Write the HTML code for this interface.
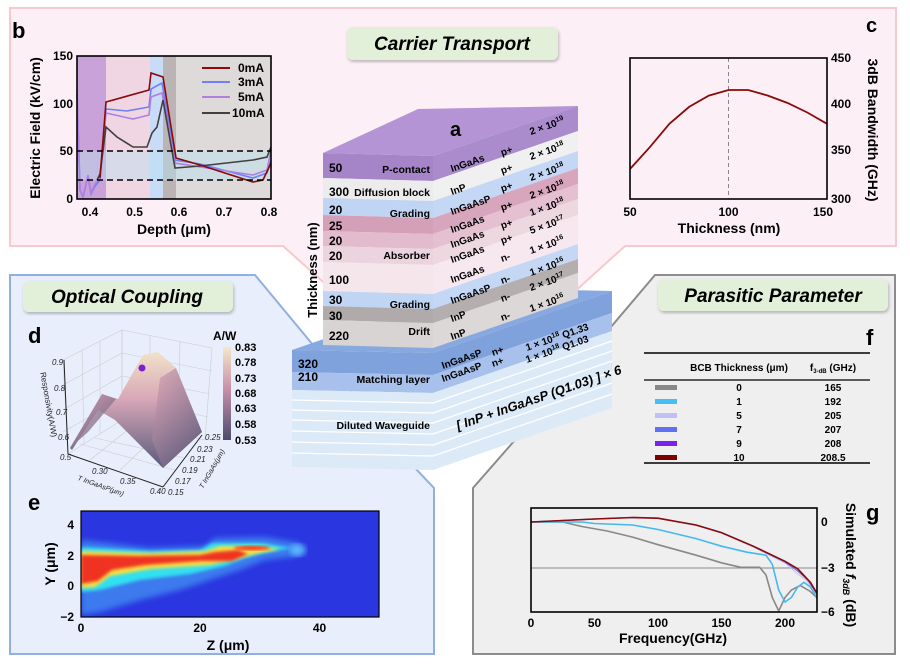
<!DOCTYPE html>
<html><head><meta charset="utf-8"><style>
html,body{margin:0;padding:0;background:#fff}
svg{display:block;font-family:"Liberation Sans",Arial,sans-serif}
.b{font-weight:bold}
</style></head><body>
<svg width="910" height="668" viewBox="0 0 910 668" xmlns="http://www.w3.org/2000/svg">
<defs>
<filter id="bl3"><feGaussianBlur stdDeviation="3"/></filter>
<filter id="bl2"><feGaussianBlur stdDeviation="1.5"/></filter>
<filter id="sh"><feDropShadow dx="1" dy="2" stdDeviation="1.5" flood-color="#000" flood-opacity="0.25"/></filter>
<clipPath id="ce"><rect x="81" y="511" width="298" height="106"/></clipPath>
<linearGradient id="cb" x1="0" y1="0" x2="0" y2="1"><stop offset="0" stop-color="#f4e8c8"/><stop offset="0.45" stop-color="#c890aa"/><stop offset="1" stop-color="#4a4c6c"/></linearGradient>
<linearGradient id="sf" x1="0" y1="0" x2="0" y2="1"><stop offset="0" stop-color="#f2e2c8"/><stop offset="0.4" stop-color="#d8a8b8"/><stop offset="1" stop-color="#585a7a"/></linearGradient>
<linearGradient id="sf2" x1="0" y1="0" x2="1" y2="1"><stop offset="0" stop-color="#d8a0b4"/><stop offset="1" stop-color="#505274"/></linearGradient>
</defs>

<polygon points="10,8 896,8 896,246 625,246 455,400 283,246 10,246" fill="#fcf0f6" stroke="#f8c8cc" stroke-width="2"/>
<polygon points="10,275 255,275 415,468 434,488 434,654 10,654" fill="#e8eefc" stroke="#90b0e0" stroke-width="2"/>
<polygon points="473,654 895,654 895,275 655,275 515,440 473,488" fill="#efefef" stroke="#8c8c8c" stroke-width="2"/>

<rect x="347" y="27" width="211" height="33" rx="6" fill="#e2efd9" filter="url(#sh)"/>
<text x="452" y="50" text-anchor="middle" font-size="19" font-weight="bold" font-style="italic">Carrier Transport</text>
<rect x="23" y="281" width="210" height="31" rx="6" fill="#e2efd9" filter="url(#sh)"/>
<text x="127" y="303" text-anchor="middle" font-size="19" font-weight="bold" font-style="italic">Optical  Coupling</text>
<rect x="658" y="279" width="230" height="32" rx="6" fill="#e2efd9" filter="url(#sh)"/>
<text x="773" y="302" text-anchor="middle" font-size="19" font-weight="bold" font-style="italic">Parasitic Parameter</text>

<!-- panel b -->
<text x="12" y="38" font-size="22" class="b">b</text>
<rect x="77" y="56" width="29" height="143" fill="#c8a2d8"/>
<rect x="106" y="56" width="44" height="143" fill="#f0d6e2"/>
<rect x="150" y="56" width="13" height="143" fill="#c8dcf8"/>
<rect x="163" y="56" width="13" height="143" fill="#bcb4b4"/>
<rect x="176" y="56" width="95" height="143" fill="#dedada"/>
<rect x="77" y="151" width="194" height="29" fill="#b8e0f0" opacity="0.45"/>
<g fill="none" stroke-width="1.6">
<path d="M77,95 L80,190 L83,197 L88,176 L91,194 L95,186 L100,180 L106,109 L127,111 L149,107 L151,89 L162,83 L175,160 L200,164 L253,178 L267,173 L271,160" stroke="#6f7ff8"/>
<path d="M77,90 L80,190 L83,197 L88,175 L91,193 L95,184 L100,178 L106,113 L133,119 L149,115 L151,97 L162,93 L175,163 L253,175 L267,170 L271,150" stroke="#b080e0"/>
<path d="M97,180 L100,174 L106,127 L117,137 L133,147 L147,147 L152,133 L157,127 L163,100 L175,168 L200,166 L253,160 L267,157 L271,147" stroke="#404040"/>
<path d="M100,178 L106,102 L149,90 L151,73 L163,77 L176,158 L200,165 L253,182 L263,180 L271,163" stroke="#8b0a0a"/>
</g>
<line x1="77" y1="151" x2="271" y2="151" stroke="#000" stroke-width="1.5" stroke-dasharray="6,4"/>
<line x1="77" y1="180" x2="271" y2="180" stroke="#000" stroke-width="1.5" stroke-dasharray="6,4"/>
<rect x="77" y="56" width="194" height="143" fill="none" stroke="#000" stroke-width="1.6"/>
<g stroke-width="2"><line x1="202" y1="68" x2="230" y2="68" stroke="#8b0a0a"/><line x1="202" y1="82" x2="230" y2="82" stroke="#6f7ff8"/><line x1="202" y1="97" x2="230" y2="97" stroke="#b080e0"/><line x1="202" y1="113" x2="230" y2="113" stroke="#404040"/></g>
<g font-size="12" class="b"><text x="238" y="72">0mA</text><text x="238" y="86">3mA</text><text x="238" y="101">5mA</text><text x="232" y="117">10mA</text></g>
<g font-size="12" class="b" text-anchor="end"><text x="73" y="60">150</text><text x="73" y="108">100</text><text x="73" y="155">50</text><text x="73" y="203">0</text></g>
<g font-size="12" class="b" text-anchor="middle"><text x="90" y="216">0.4</text><text x="134.6" y="216">0.5</text><text x="179" y="216">0.6</text><text x="224" y="216">0.7</text><text x="269" y="216">0.8</text>
<text x="174" y="234" font-size="14">Depth (μm)</text></g>
<text transform="translate(40,128) rotate(-90)" text-anchor="middle" font-size="14" class="b">Electric Field (kV/cm)</text>

<!-- panel c -->
<text x="866" y="32" font-size="20" class="b">c</text>
<line x1="728.5" y1="58" x2="728.5" y2="199" stroke="#888" stroke-dasharray="4,3"/>
<path d="M630,169 L649.7,147.3 L669.4,123.8 L689.1,106.9 L708.8,95.6 L728.5,90 L748.2,90 L767.9,95.6 L787.6,103 L807.3,112.5 L827,123.8" fill="none" stroke="#8b0a0a" stroke-width="1.8"/>
<rect x="630" y="58" width="197" height="141" fill="none" stroke="#000" stroke-width="1.6"/>
<g font-size="12" class="b"><text x="831" y="62">450</text><text x="831" y="108">400</text><text x="831" y="154">350</text><text x="831" y="203">300</text></g>
<g font-size="12" class="b" text-anchor="middle"><text x="630" y="216">50</text><text x="728.5" y="216">100</text><text x="823" y="216">150</text><text x="729" y="233" font-size="14">Thickness (nm)</text></g>
<text transform="translate(868,130) rotate(90)" text-anchor="middle" font-size="14" class="b">3dB Bandwidth (GHz)</text>

<!-- panel d -->
<text x="28" y="343" font-size="22" class="b">d</text>
<g stroke="#ccc" stroke-width="0.6" fill="none">
<polygon points="63,360 122,330 122,420 68,454"/><polygon points="122,330 212,348 205,440 122,420"/>
<line x1="82" y1="350" x2="84" y2="444"/><line x1="100" y1="341" x2="100" y2="434"/><line x1="150" y1="335" x2="150" y2="426"/><line x1="180" y1="341" x2="178" y2="432"/>
<line x1="63" y1="385" x2="122" y2="353"/><line x1="63" y1="410" x2="122" y2="376"/><line x1="63" y1="432" x2="122" y2="398"/>
<line x1="122" y1="353" x2="212" y2="371"/><line x1="122" y1="376" x2="210" y2="394"/><line x1="122" y1="398" x2="208" y2="417"/>
<line x1="90" y1="460" x2="145" y2="416"/><line x1="120" y1="470" x2="170" y2="423"/><line x1="80" y1="444" x2="175" y2="470"/><line x1="95" y1="438" x2="185" y2="458"/>
</g>
<polygon points="70,448 102,394 118,399 143,355 158,352 176,368 202,432 163,468 150,455 115,420 98,410 72,450" fill="url(#sf)"/>
<polygon points="70,448 102,394 116,399 88,432" fill="url(#sf2)" opacity="0.8"/>
<polygon points="160,378 176,368 202,432 163,468 152,440" fill="url(#sf2)" opacity="0.7"/>
<circle cx="142" cy="368" r="3.5" fill="#7a20d0"/>
<line x1="64" y1="360" x2="68" y2="454" stroke="#222" stroke-width="1"/>
<line x1="68" y1="454" x2="163" y2="487" stroke="#222" stroke-width="1"/>
<line x1="163" y1="487" x2="202" y2="435" stroke="#222" stroke-width="1"/>
<g font-size="8" font-style="italic" fill="#222"><text x="52" y="365">0.9</text><text x="54" y="391">0.8</text><text x="56" y="415">0.7</text><text x="58" y="440">0.6</text><text x="60" y="460">0.5</text>
<text x="92" y="474">0.30</text><text x="120" y="484">0.35</text><text x="150" y="494">0.40</text>
<text x="205" y="440">0.25</text><text x="197" y="452">0.23</text><text x="190" y="462">0.21</text><text x="182" y="473">0.19</text><text x="175" y="484">0.17</text><text x="168" y="495">0.15</text></g>
<text transform="translate(46,405) rotate(80)" text-anchor="middle" font-size="8" fill="#222">Responsivity(A/W)</text>
<text transform="translate(100,488) rotate(20)" text-anchor="middle" font-size="7" font-style="italic" fill="#222">T InGaAsP(μm)</text>
<text transform="translate(214,470) rotate(-60)" text-anchor="middle" font-size="7" font-style="italic" fill="#222">T InGaAs(μm)</text>
<rect x="223" y="347" width="8" height="93" fill="url(#cb)"/>
<text x="213" y="340" font-size="12" class="b">A/W</text>
<g font-size="11" class="b"><text x="235" y="351">0.83</text><text x="235" y="366">0.78</text><text x="235" y="382">0.73</text><text x="235" y="397">0.68</text><text x="235" y="412">0.63</text><text x="235" y="428">0.58</text><text x="235" y="444">0.53</text></g>

<!-- panel e -->
<text x="28" y="510" font-size="22" class="b">e</text>
<rect x="81" y="511" width="298" height="106" fill="#2a36e0"/>
<g clip-path="url(#ce)">
<path d="M81,540 L150,548 L205,546 L215,538 L265,537 L300,543 L300,556 L265,560 L240,570 L210,580 L180,590 L140,600 L100,612 L81,615 Z" fill="#4aa8f8" filter="url(#bl3)" opacity="0.6"/>
<ellipse cx="298" cy="550" rx="8" ry="6" fill="#60c8ff" filter="url(#bl3)" opacity="0.8"/>
<path d="M81,547 L150,551 L200,550 L212,543 L262,543 L292,548 L262,553 L245,558 L225,566 L190,574 L140,580 L100,590 L81,592 Z" fill="#30e0f0" filter="url(#bl2)"/>
<path d="M81,551 L150,553 L205,551 L220,546 L258,546 L280,549 L255,554 L236,559 L210,565 L150,569 L110,576 L95,587 L81,588 Z" fill="#f8e040" filter="url(#bl2)"/>
<path d="M81,555 L140,556 L200,555 L215,552 L238,550 L248,554 L232,561 L200,561 L145,565 L112,570 L98,581 L81,584 Z" fill="#f03020" filter="url(#bl2)"/>
<ellipse cx="252" cy="548" rx="18" ry="2.2" fill="#f03020" filter="url(#bl2)"/>
</g>
<rect x="81" y="511" width="298" height="106" fill="none" stroke="#000" stroke-width="1.2"/>
<g font-size="12" class="b" text-anchor="end"><text x="74" y="529">4</text><text x="74" y="560">2</text><text x="74" y="590">0</text><text x="74" y="621">−2</text></g>
<g font-size="12" class="b" text-anchor="middle"><text x="81" y="632">0</text><text x="200" y="632">20</text><text x="319.5" y="632">40</text><text x="228" y="650" font-size="14">Z (μm)</text></g>
<text transform="translate(55,564) rotate(-90)" text-anchor="middle" font-size="14" class="b">Y (μm)</text>

<!-- panel f -->
<text x="866" y="345" font-size="22" class="b">f</text>
<line x1="644" y1="353" x2="870" y2="353" stroke="#000" stroke-width="1.5"/>
<line x1="644" y1="380" x2="870" y2="380" stroke="#000" stroke-width="1.2"/>
<line x1="644" y1="463" x2="870" y2="463" stroke="#000" stroke-width="1.5"/>
<text x="739" y="371" text-anchor="middle" font-size="10" class="b">BCB Thickness (μm)</text>
<text x="833" y="371" text-anchor="middle" font-size="10" class="b">f<tspan font-size="6" dy="2">3-dB</tspan><tspan dy="-2"> (GHz)</tspan></text>
<g>
<rect x="655" y="385" width="22" height="5" fill="#888"/><rect x="655" y="399" width="22" height="5" fill="#44c0f4"/><rect x="655" y="413" width="22" height="5" fill="#c0c0f4"/><rect x="655" y="427" width="22" height="5" fill="#6070f0"/><rect x="655" y="441" width="22" height="5" fill="#7a20f0"/><rect x="655" y="455" width="22" height="5" fill="#800000"/>
</g>
<g font-size="10" class="b" text-anchor="middle">
<text x="739" y="391">0</text><text x="833" y="391">165</text>
<text x="739" y="405">1</text><text x="833" y="405">192</text>
<text x="739" y="419">5</text><text x="833" y="419">205</text>
<text x="739" y="433">7</text><text x="833" y="433">207</text>
<text x="739" y="447">9</text><text x="833" y="447">208</text>
<text x="739" y="461">10</text><text x="833" y="461">208.5</text></g>

<!-- panel g -->
<text x="866" y="520" font-size="22" class="b">g</text>
<line x1="531" y1="568" x2="817" y2="568" stroke="#888" stroke-width="1"/>
<g fill="none" stroke-width="1.6">
<path d="M531,522 L562.8,522 L581.8,526.5 L607.2,531 L632.6,537.1 L658,544.7 L696.1,555.2 L721.5,562.8 L740.6,567.3 L759.6,567.3 L766,575 L772.3,597.5 L778.7,611 L785,597.5 L791.4,590 L800.2,585.4 L810.4,591.5 L816.8,597.5" stroke="#888"/>
<path d="M531,522 L581.8,522 L594.5,523.5 L632.6,525 L658,529.5 L696.1,538.6 L721.5,546.2 L746.9,552.2 L766,555.2 L772.3,564.3 L778.7,590 L785,602 L791.4,597.5 L797.7,587 L804,582.4 L810.4,587 L816.8,597.5" stroke="#44b8f0"/>
<path d="M531,522 L594.5,519 L632.6,517.5 L658,518.5 L696.1,525.5 L721.5,533 L753.3,547 L785,563 L797.7,574 L806,580 L816.8,593" stroke="#c0c0f4" stroke-width="1"/>
<path d="M531,522 L594.5,519 L632.6,517.5 L658,518.3 L696.1,525.2 L721.5,532.8 L753.3,546.5 L785,562 L797.7,571 L808,580 L816.8,594" stroke="#6070f0" stroke-width="1.2"/>
<path d="M531,522 L594.5,519 L632.6,517.5 L658,518.2 L696.1,525 L721.5,532.6 L753.3,546.2 L785,561.3 L797.7,568.8 L810.4,582.4 L816.8,593" stroke="#8b0a0a"/>
</g>
<rect x="531" y="508" width="286" height="104" fill="none" stroke="#000" stroke-width="1.6"/>
<g font-size="12" class="b"><text x="821" y="526">0</text><text x="821" y="572">−3</text><text x="821" y="616">−6</text></g>
<g font-size="12" class="b" text-anchor="middle"><text x="531" y="627">0</text><text x="594.5" y="627">50</text><text x="658" y="627">100</text><text x="721.5" y="627">150</text><text x="785" y="627">200</text><text x="673" y="643" font-size="14">Frequency(GHz)</text></g>
<text transform="translate(846,565) rotate(90)" text-anchor="middle" font-size="14" class="b">Simulated <tspan font-style="italic">f</tspan><tspan font-size="9" dy="3" font-style="italic">3dB</tspan><tspan dy="-3"> (dB)</tspan></text>

<!-- stack: lower block -->
<polygon points="292,350 433,353 612,291 471,288" fill="#88a8e0"/>
<polygon points="292,350 433,353 433,375 292,372" fill="#7fa2dc"/>
<polygon points="292,372 433,375 433,393 292,390" fill="#a8c0ec"/>
<polygon points="292,390 433,393 433,470 292,467" fill="#dceaf8"/>
<polygon points="433,353 612,291 612,313 433,375" fill="#7fa2dc"/>
<polygon points="433,375 612,313 612,331 433,393" fill="#a8c0ec"/>
<polygon points="433,393 612,331 612,408 433,470" fill="#dceaf8"/>
<g stroke="#fff" stroke-width="1.2" fill="none">
<path d="M292,400 L433,403 L612,341"/><path d="M292,410 L433,413 L612,351"/><path d="M292,420 L433,423 L612,361"/><path d="M292,431 L433,434 L612,372"/><path d="M292,442 L433,445 L612,383"/><path d="M292,453 L433,456 L612,394"/>
</g>
<!-- upper block -->
<polygon points="323,153 418,109 578,106 433,156" fill="#b494d4"/>
<g>
<polygon points="323,153 433,156 433,181 323,178" fill="#a684c8"/><polygon points="433,156 578,106 578,131 433,181" fill="#aa8ccc"/>
<polygon points="323,178 433,181 433,201 323,198" fill="#ececec"/><polygon points="433,181 578,131 578,151 433,201" fill="#f0f0f0"/>
<polygon points="323,198 433,201 433,218 323,215" fill="#c0d4f4"/><polygon points="433,201 578,151 578,168 433,218" fill="#c4d8f6"/>
<polygon points="323,215 433,218 433,234 323,231" fill="#d4a0b8"/><polygon points="433,218 578,168 578,184 433,234" fill="#d8a6bc"/>
<polygon points="323,231 433,234 433,249 323,246" fill="#e2bccc"/><polygon points="433,234 578,184 578,199 433,249" fill="#e4c0d0"/>
<polygon points="323,246 433,249 433,265 323,262" fill="#ecd4de"/><polygon points="433,249 578,199 578,215 433,265" fill="#eed8e0"/>
<polygon points="323,262 433,265 433,294 323,291" fill="#f5e6ec"/><polygon points="433,265 578,215 578,244 433,294" fill="#f6e8ee"/>
<polygon points="323,291 433,294 433,309 323,306" fill="#c0d4f4"/><polygon points="433,294 578,244 578,259 433,309" fill="#c4d8f6"/>
<polygon points="323,306 433,309 433,323 323,320" fill="#b0aaaa"/><polygon points="433,309 578,259 578,273 433,323" fill="#b4aeae"/>
<polygon points="323,320 433,323 433,348 323,345" fill="#d8d4d4"/><polygon points="433,323 578,273 578,298 433,348" fill="#dcd8d8"/>
</g>
<text x="450" y="136" font-size="20" class="b">a</text>
<text transform="translate(317,270) rotate(-90)" text-anchor="middle" font-size="13" class="b">Thickness (nm)</text>
<g font-size="12" class="b"><text x="329" y="172">50</text><text x="329" y="196">300</text><text x="329" y="214">20</text><text x="329" y="230">25</text><text x="329" y="245">20</text><text x="329" y="260">20</text><text x="329" y="284">100</text><text x="329" y="304">30</text><text x="329" y="320">30</text><text x="329" y="340">220</text>
<text x="298" y="368">320</text><text x="298" y="381">210</text></g>
<g font-size="10.5" class="b" text-anchor="end"><text x="430" y="173">P-contact</text><text x="430" y="196">Diffusion block</text><text x="430" y="217">Grading</text><text x="430" y="259">Absorber</text><text x="430" y="308">Grading</text><text x="430" y="335">Drift</text><text x="430" y="383">Matching layer</text><text x="430" y="429">Diluted Waveguide</text></g>
<g font-size="10" class="b">
<text transform="translate(452,172) rotate(-19)">InGaAs</text>
<text transform="translate(452,195) rotate(-19)">InP</text>
<text transform="translate(452,215) rotate(-19)">InGaAsP</text>
<text transform="translate(452,233) rotate(-19)">InGaAs</text>
<text transform="translate(452,248) rotate(-19)">InGaAs</text>
<text transform="translate(452,263) rotate(-19)">InGaAs</text>
<text transform="translate(452,283) rotate(-19)">InGaAs</text>
<text transform="translate(452,304) rotate(-19)">InGaAsP</text>
<text transform="translate(452,322) rotate(-19)">InP</text>
<text transform="translate(452,340) rotate(-19)">InP</text>
<text transform="translate(502,156) rotate(-19)">p+</text>
<text transform="translate(502,174) rotate(-19)">p+</text>
<text transform="translate(502,192) rotate(-19)">p+</text>
<text transform="translate(502,211) rotate(-19)">p+</text>
<text transform="translate(502,229) rotate(-19)">p+</text>
<text transform="translate(502,244) rotate(-19)">p+</text>
<text transform="translate(502,262) rotate(-19)">n-</text>
<text transform="translate(502,284) rotate(-19)">n-</text>
<text transform="translate(502,302) rotate(-19)">n-</text>
<text transform="translate(502,321) rotate(-19)">n-</text>
<text transform="translate(531,135) rotate(-19)">2 × 10<tspan font-size="7" dy="-4">19</tspan></text>
<text transform="translate(531,160) rotate(-19)">2 × 10<tspan font-size="7" dy="-4">18</tspan></text>
<text transform="translate(531,181) rotate(-19)">2 × 10<tspan font-size="7" dy="-4">18</tspan></text>
<text transform="translate(531,199) rotate(-19)">2 × 10<tspan font-size="7" dy="-4">18</tspan></text>
<text transform="translate(531,216) rotate(-19)">1 × 10<tspan font-size="7" dy="-4">18</tspan></text>
<text transform="translate(531,234) rotate(-19)">5 × 10<tspan font-size="7" dy="-4">17</tspan></text>
<text transform="translate(531,254) rotate(-19)">1 × 10<tspan font-size="7" dy="-4">16</tspan></text>
<text transform="translate(531,276) rotate(-19)">1 × 10<tspan font-size="7" dy="-4">16</tspan></text>
<text transform="translate(531,291) rotate(-19)">2 × 10<tspan font-size="7" dy="-4">17</tspan></text>
<text transform="translate(531,312) rotate(-19)">1 × 10<tspan font-size="7" dy="-4">16</tspan></text>
<text transform="translate(443,369) rotate(-19)">InGaAsP</text>
<text transform="translate(443,382) rotate(-19)">InGaAsP</text>
<text transform="translate(493,356) rotate(-19)">n+</text>
<text transform="translate(493,367) rotate(-19)">n+</text>
<text transform="translate(527,351) rotate(-19)">1 × 10<tspan font-size="7" dy="-4">18</tspan><tspan dy="4"> Q1.33</tspan></text>
<text transform="translate(527,363) rotate(-19)">1 × 10<tspan font-size="7" dy="-4">18</tspan><tspan dy="4"> Q1.03</tspan></text>
</g>
<text transform="translate(458,430) rotate(-19)" font-size="13" class="b" font-style="italic">[ InP + InGaAsP (Q1.03) ] × 6</text>
</svg>
</body></html>
